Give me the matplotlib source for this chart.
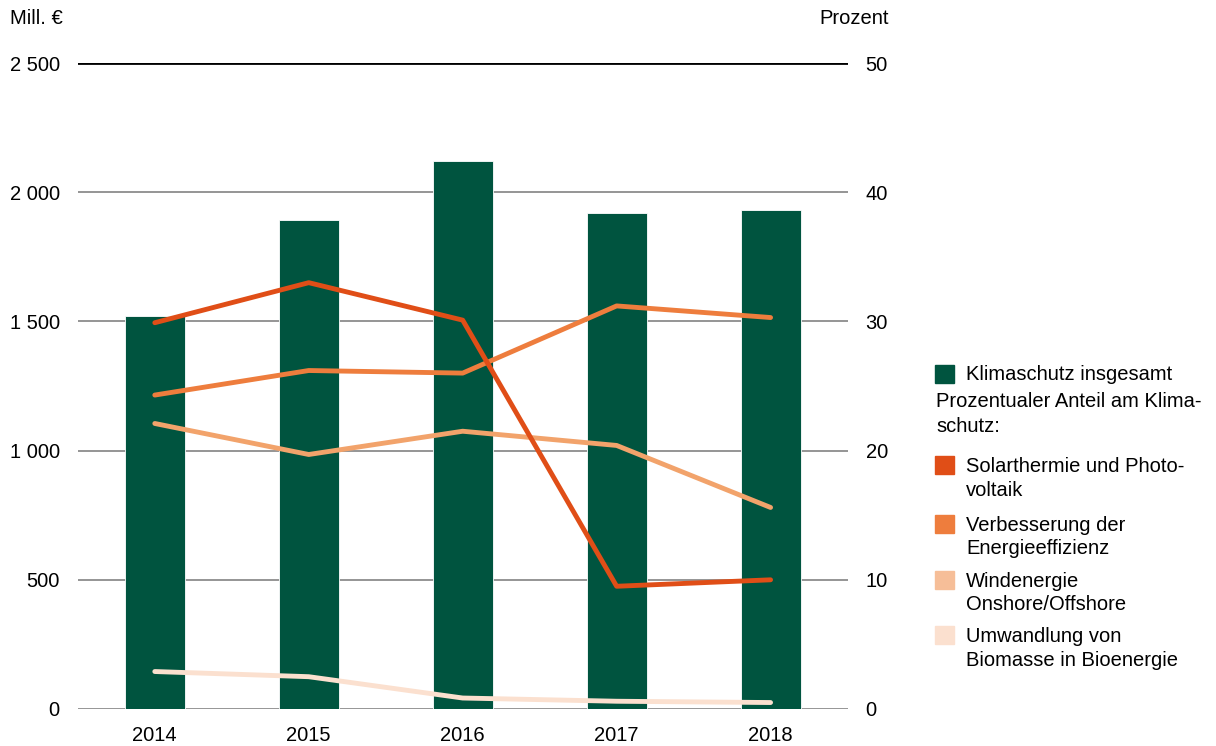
import matplotlib
matplotlib.use('Agg')
import matplotlib.pyplot as plt
from matplotlib.patches import Rectangle
import numpy as np

plt.rcParams['font.family'] = ['Liberation Sans', 'DejaVu Sans']

years = ['2014', '2015', '2016', '2017', '2018']
klimaschutz = [1521, 1892, 2121, 1919, 1931]
solar = [29.9, 33.0, 30.1, 9.5, 10.0]
effizienz = [24.3, 26.2, 26.0, 31.2, 30.3]
wind = [22.1, 19.7, 21.5, 20.4, 15.6]
biomasse = [2.9, 2.5, 0.85, 0.6, 0.5]

left_ticks = [0, 500, 1000, 1500, 2000, 2500]
left_labels = ['0', '500', '1 000', '1 500', '2 000', '2 500']
right_ticks = [0, 10, 20, 30, 40, 50]

green = '#00543f'
line_colors = ['#e04e17', '#ee7d3d', '#f2a36b', '#fbe0cf']
patch_colors = ['#e04e17', '#ee7d3d', '#f6be98', '#fbe0cf']
labels = ['Solarthermie und Photo-\nvoltaik', 'Verbesserung der\nEnergieeffizienz',
          'Windenergie\nOnshore/Offshore', 'Umwandlung von\nBiomasse in Bioenergie']

fs = 14.5
fig = plt.figure(figsize=(12.16, 7.46), dpi=100)
ax = fig.add_axes([0.064, 0.0496, 0.633, 0.8659])
x = np.arange(len(years))

for t in left_ticks[1:-1]:
    ax.axhline(t, color='#8c8c8c', lw=1.3, zorder=1)
ax.axhline(0, color='#8c8c8c', lw=2, zorder=1)
ax.axhline(2500, color='black', lw=2, zorder=1)

ax.bar(x, klimaschutz, width=0.39, color=green, edgecolor='#ffffff', lw=0.6, zorder=2)
ax.set_ylim(0, 2500)
ax.set_xlim(-0.5, 4.5)
ax.set_yticks(left_ticks)
ax.set_yticklabels(left_labels)
ax.set_xticks(x)
ax.set_xticklabels(years)
ax.tick_params(length=0, labelsize=fs, pad=13)
ax.tick_params(axis='x', pad=12)
for s in ax.spines.values():
    s.set_visible(False)

ax2 = ax.twinx()
ax2.set_ylim(0, 50)
for vals, c in zip([biomasse, wind, effizienz, solar], line_colors[::-1]):
    ax2.plot(x, vals, color=c, lw=3.5, solid_capstyle='round', zorder=3)
ax2.set_yticks(right_ticks)
ax2.tick_params(length=0, labelsize=fs, pad=13)
for s in ax2.spines.values():
    s.set_visible(False)

fig.text(10 / 1216, 1 - 19 / 746, 'Mill. €', fontsize=fs, va='center', ha='left')
fig.text(889 / 1216, 1 - 19 / 746, 'Prozent', fontsize=fs, va='center', ha='right')

# legend
def patch(yc, color):
    fig.patches.append(Rectangle((935 / 1216, 1 - (yc + 9) / 746), 19 / 1216, 18 / 746,
                                 transform=fig.transFigure, color=color))

patch(374, green)
fig.text(966 / 1216, 1 - 374 / 746, 'Klimaschutz insgesamt', fontsize=fs, va='center')
fig.text(936 / 1216, 1 - 414 / 746, 'Prozentualer Anteil am Klima-\nschutz:', fontsize=fs,
         va='center', linespacing=1.35)
ys = [465, 524, 580, 635]
for yc, c, lab in zip(ys, patch_colors, labels):
    patch(yc, c)
    fig.text(966 / 1216, 1 - (yc - 8) / 746, lab, fontsize=fs, va='top', linespacing=1.3)

fig.savefig('out.png', dpi=100)
